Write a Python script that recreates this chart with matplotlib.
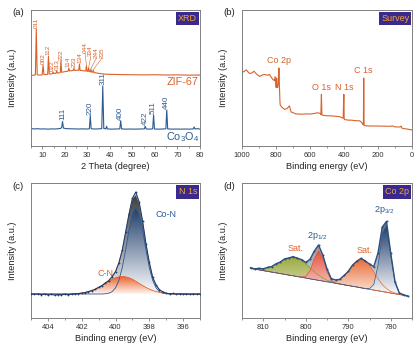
import numpy as np
import matplotlib
matplotlib.use("Agg")
import matplotlib.pyplot as plt
from matplotlib.patches import Polygon
from matplotlib.colors import LinearSegmentedColormap
from matplotlib.ticker import MultipleLocator

plt.rcParams['font.family'] = ['Liberation Sans', 'DejaVu Sans']
plt.rcParams['mathtext.default'] = 'regular'

BLUE = '#2c5a92'
NAVY = '#1f3d6a'
ORANGE = '#d9622b'
GRAY = '#808080'
BOX_BG = '#3a2a8c'
BOX_FG = '#f2a33a'

# ---------------- (a) XRD ----------------
co3o4_2theta = [5.0, 6.5, 8.0, 9.5, 11.0, 12.5, 14.0, 15.5, 17.0, 18.2,
                18.6, 19.0, 19.4, 20.5, 22.0, 24.0, 26.0, 28.0, 30.0, 30.9,
                31.3, 31.7, 33.0, 35.0, 36.4, 36.85, 37.3, 38.2, 38.55, 38.9,
                40.5, 42.5, 44.4, 44.8, 45.2, 47.0, 49.0, 51.0, 53.0, 55.3,
                55.7, 56.1, 57.5, 59.0, 59.4, 59.8, 61.5, 63.5, 64.85, 65.25,
                65.65, 67.5, 69.5, 71.5, 73.5, 75.5, 77.0, 77.4, 77.8, 78.8, 80.0]
co3o4_int = [.128, .126, .127, .125, .126, .124, .126, .125, .127, .130,
             .135, .180, .132, .128, .127, .126, .125, .126, .125, .127,
             .222, .127, .125, .126, .128, .440, .129, .126, .145, .126,
             .124, .125, .126, .186, .126, .124, .125, .124, .125, .126,
             .145, .126, .124, .126, .228, .125, .124, .125, .127, .265,
             .126, .124, .125, .124, .125, .124, .126, .140, .125, .128, .124]
co3o4_hkl = ['111', '220', '311', '400', '422', '511', '440']
co3o4_peaks = [19.0, 31.3, 36.85, 44.8, 55.7, 59.4, 65.25]

zif_2theta = [5.0, 6.0, 6.95, 7.35, 7.75, 8.8, 9.95, 10.35, 10.75, 11.8,
              12.4, 12.75, 13.1, 14.0, 14.5, 14.8, 15.1, 16.1, 16.4, 16.7,
              17.4, 18.0, 18.3, 18.6, 19.8, 21.0, 21.5, 21.8, 22.1, 23.0,
              23.7, 24.0, 24.3, 25.5, 26.2, 26.5, 26.8, 28.0, 29.3, 29.6,
              29.9, 30.3, 30.6, 30.9, 31.3, 31.6, 31.9, 32.3, 32.6, 32.9,
              34.0, 35.5, 37.5, 40.0, 45.0, 50.0, 55.0, 60.0, 65.0, 70.0, 75.0, 80.0]
zif_int = [.522, .520, .523, .860, .524, .521, .523, .595, .525, .526,
           .528, .660, .529, .530, .532, .545, .533, .535, .553, .536,
           .538, .541, .628, .542, .546, .549, .551, .572, .552, .554,
           .555, .572, .556, .557, .557, .603, .556, .554, .551, .590,
           .550, .548, .575, .547, .545, .565, .544, .542, .556, .541,
           .537, .533, .529, .527, .525, .524, .523, .524, .522, .523, .521, .522]
zif_hkl = ['011', '002', '112', '022', '013', '222', '114', '233', '134',
           '044', '334', '244', '235']
zif_peaks = [7.35, 10.35, 12.75, 14.8, 16.4, 18.3, 21.8, 24.0, 26.5,
             29.6, 30.6, 31.6, 32.6]

# ---------------- (b) survey ----------------
survey_be = [1000, 990, 975, 965, 955, 940, 930, 915, 897, 880,
             868, 850, 838, 825, 819, 810, 805, 802, 799, 796,
             793, 790, 786, 783, 780, 777, 775, 765, 750, 735,
             725, 721, 716, 711, 700, 682, 650, 620, 604, 580,
             556, 545, 540, 536, 533, 530, 520, 500, 480, 460,
             440, 423, 413, 405, 401, 399, 397, 390, 370, 355,
             330, 307, 298, 292, 289, 286, 284, 282, 278, 260,
             240, 210, 170, 130, 113, 105, 90, 70, 64, 60,
             50, 30, 10, 0]
survey_int = [.55, .545, .56, .545, .533, .538, .55, .53, .512, .522,
              .526, .52, .526, .50, .49, .48, .51, .47, .43, .50,
              .44, .43, .46, .574, .45, .33, .30, .285, .27, .275,
              .29, .295, .27, .25, .245, .236, .234, .236, .235, .238,
              .244, .242, .238, .232, .38, .228, .225, .222, .222, .22,
              .218, .215, .208, .205, .38, .20, .195, .193, .19, .19,
              .186, .185, .175, .165, .16, .155, .50, .155, .15, .148,
              .147, .147, .146, .145, .148, .142, .14, .14, .147, .132,
              .128, .125, .12, .119]
survey_names = ['Co 2p', 'O 1s', 'N 1s', 'C 1s']
survey_peaks = [783, 533, 401, 284]

# ---------------- (c) N 1s ----------------
n1s_be = [405.0, 404.8, 404.6, 404.4, 404.2, 404.0, 403.8, 403.6, 403.4, 403.2,
          403.0, 402.8, 402.6, 402.4, 402.2, 402.0, 401.8, 401.6, 401.4, 401.2,
          401.0, 400.8, 400.6, 400.4, 400.2, 400.0, 399.8, 399.6, 399.4, 399.2,
          399.0, 398.8, 398.6, 398.4, 398.2, 398.0, 397.8, 397.6, 397.4, 397.2,
          397.0, 396.8, 396.6, 396.4, 396.2, 396.0, 395.8, 395.6, 395.4, 395.2, 395.0]
n1s_raw = [.182, .178, .181, .176, .179, .174, .177, .172, .176, .174,
           .178, .175, .179, .181, .183, .186, .190, .197, .205, .214,
           .229, .242, .262, .279, .309, .346, .411, .503, .640, .771,
           .889, .935, .861, .722, .552, .414, .303, .246, .212, .196,
           .186, .181, .184, .179, .182, .178, .181, .177, .180, .178, .181]
n1s_bg = 0.18
n1s_con = [0.0] * 22 + [.002, .006, .017, .045, .101, .196, .329, .476, .595, .640,
                        .595, .476, .329, .196, .101, .045, .017, .006, .002] + [0.0] * 10
n1s_cn = [0.0] * 12 + [.001, .003, .004, .007, .012, .018, .026, .036, .049, .063,
                       .079, .094, .109, .120, .127, .130, .127, .120, .109, .094,
                       .079, .063, .049, .036, .026, .018, .012, .007, .004, .003,
                       .001] + [0.0] * 8

# ---------------- (d) Co 2p ----------------
co2p_be = [813, 812, 811, 810, 809, 808, 807, 806, 805, 804,
           803, 802, 801, 800, 799, 798, 797, 796, 795, 794,
           793, 792, 791, 790, 789, 788, 787, 786, 785, 784,
           783, 782, 781, 780, 779, 778, 777, 776]
co2p_raw = [.375, .366, .370, .366, .377, .383, .404, .416, .440, .446,
            .457, .445, .435, .414, .437, .497, .543, .470, .365, .294,
            .284, .288, .317, .347, .394, .422, .444, .425, .402, .382,
            .484, .676, .718, .480, .271, .188, .174, .163]
co2p_bg = [.370, .364, .359, .353, .348, .342, .337, .331, .326, .320,
           .315, .309, .304, .298, .292, .287, .281, .276, .270, .265,
           .259, .254, .248, .243, .237, .232, .226, .220, .215, .209,
           .204, .198, .193, .187, .182, .176, .171, .165]
co2p_sat1 = [.002, .004, .008, .015, .026, .043, .064, .087, .111, .129,
             .139, .138, .126, .106, .082, .059, .039, .024, .013, .007,
             .003, .001] + [0.0] * 16
co2p_p12 = [0.0] * 12 + [.002, .013, .060, .154, .219, .173, .076, .018, .002] + [0.0] * 17
co2p_sat2 = [0.0] * 18 + [.003, .007, .017, .036, .066, .107, .154, .193, .214, .208,
                          .179, .135, .090, .052, .027, .012, .005, .002] + [0.0] * 2
co2p_p32 = [0.0] * 28 + [.005, .041, .187, .430, .494, .284, .081, .012, .001, 0.0]


def gradient_fill(ax, x, top, bottom, color, z, light='white'):
    x = np.asarray(x, float)
    top = np.asarray(top, float)
    bottom = np.asarray(bottom, float)
    verts = np.column_stack([np.concatenate([x, x[::-1]]),
                             np.concatenate([top, bottom[::-1]])])
    poly = Polygon(verts, closed=True, fc='none', ec='none')
    ax.add_patch(poly)
    cmap = LinearSegmentedColormap.from_list('fade', [light, color])
    shade = np.linspace(0, 1, 200).reshape(-1, 1)
    im = ax.imshow(shade, cmap=cmap, origin='lower', aspect='auto',
                   extent=(x.min(), x.max(), bottom.min(), top.max()),
                   zorder=z, interpolation='bilinear')
    im.set_clip_path(poly)


def style_axes(ax, xlim, major, minor, xlabel, tag, letter):
    ax.set_xlim(*xlim)
    ax.set_ylim(0, 1)
    ax.set_yticks([])
    ax.xaxis.set_major_locator(MultipleLocator(major))
    ax.xaxis.set_minor_locator(MultipleLocator(minor))
    ax.tick_params(axis='x', which='both', direction='out', colors=GRAY,
                   labelcolor='#333333', labelsize=5.5, width=0.6, pad=1.5)
    ax.tick_params(axis='x', which='major', length=2.5)
    ax.tick_params(axis='x', which='minor', length=1.5)
    for s in ax.spines.values():
        s.set_color(GRAY)
        s.set_linewidth(0.7)
    ax.set_xlabel(xlabel, fontsize=6.6, color='#222222')
    ax.set_ylabel('Intensity (a.u.)', fontsize=6.6, color='#222222')
    ax.xaxis.set_label_coords(0.5, -0.115)
    ax.yaxis.set_label_coords(-0.08, 0.5)
    ax.annotate(tag, xy=(1, 1), xycoords='axes fraction', xytext=(-2, -3),
                textcoords='offset points', ha='right', va='top',
                fontsize=6.5, color=BOX_FG,
                bbox=dict(boxstyle='square,pad=0.25', fc=BOX_BG, ec='none'))
    pos = ax.get_position()
    fig.text(pos.x0 - 0.045, pos.y1 - 0.008, letter, fontsize=6.8,
             color='#222222', ha='left', va='center')


fig = plt.figure(figsize=(4.2, 3.51), dpi=100)
ax_a = fig.add_axes([0.0738, 0.584, 0.4024, 0.3875])
ax_b = fig.add_axes([0.5762, 0.584, 0.4048, 0.3875])
ax_c = fig.add_axes([0.0738, 0.0932, 0.4024, 0.3846])
ax_d = fig.add_axes([0.5762, 0.0932, 0.4048, 0.3846])

# (a)
ax_a.plot(zif_2theta, zif_int, color=ORANGE, lw=0.8)
ax_a.plot(co3o4_2theta, co3o4_int, color=BLUE, lw=0.8)
zx = np.asarray(zif_2theta)
zy = np.asarray(zif_int)
# label offsets (x shift, y gap) for the crowded ZIF-67 reflections
zif_dx = [0, 0, 0, -0.5, 0.4, 0, -0.4, 0, 0.4, -0.6, 0.9, 2.4, 3.9]
zif_dy = [0.008, 0.008, 0.008, 0.008, 0.008, 0.008, 0.008, 0.008, 0.008,
          0.096, 0.085, 0.085, 0.094]
for lab, p, ddx, ddy in zip(zif_hkl, zif_peaks, zif_dx, zif_dy):
    top = zy[np.abs(zx - p) < 0.1].max()
    if ddy > 0.05:
        ax_a.plot([p, p + ddx], [top + 0.004, top + ddy - 0.004], color=ORANGE, lw=0.4)
    ax_a.text(p + ddx, top + ddy, lab, rotation=90, ha='center', va='bottom',
              fontsize=4.6, color=ORANGE)
cx = np.asarray(co3o4_2theta)
cy = np.asarray(co3o4_int)
for lab, p in zip(co3o4_hkl, co3o4_peaks):
    top = cy[np.abs(cx - p) < 0.1].max()
    ax_a.text(p, top + 0.008, lab, rotation=90, ha='center', va='bottom',
              fontsize=5.8, color=BLUE)
ax_a.text(79.5, 0.47, 'ZIF-67', ha='right', va='center', fontsize=7.8, color=ORANGE)
ax_a.text(79.5, 0.068, 'Co$_3$O$_4$', ha='right', va='center', fontsize=7.8, color=BLUE)
style_axes(ax_a, (5, 80), 10, 5, '2 Theta (degree)', 'XRD', '(a)')

# (b)
ax_b.plot(survey_be, survey_int, color=ORANGE, lw=0.8)
sb = np.asarray(survey_be)
si = np.asarray(survey_int)
for name, p in zip(survey_names, survey_peaks):
    top = si[sb == p][0]
    ax_b.text(p, top + 0.02, name, ha='center', va='bottom', fontsize=6.5, color=ORANGE)
style_axes(ax_b, (1000, 0), 200, 100, 'Binding energy (eV)', 'Survey', '(b)')

# (c)
n1s_x = np.asarray(n1s_be)
con = np.asarray(n1s_con)
cn = np.asarray(n1s_cn)
base = np.full_like(n1s_x, n1s_bg)
env = base + con + cn
gradient_fill(ax_c, n1s_x, env, base, '#3c3c3c', 1, light='#f2f2f2')
gradient_fill(ax_c, n1s_x, base + con, base, NAVY, 2)
gradient_fill(ax_c, n1s_x, base + cn, base, '#e8622c', 3, light='#fff6f0')
ax_c.plot(n1s_x, env, color='#9a9a9a', lw=0.5, zorder=4)
ax_c.plot(n1s_x, base + con, color=BLUE, lw=0.6, zorder=4)
ax_c.plot(n1s_x, base + cn, color='#e8622c', lw=0.6, zorder=4)
ax_c.plot(n1s_x, n1s_raw, color=NAVY, lw=0.8, marker='o', ms=1.3, mew=0, zorder=5)
ax_c.text(397.0, 0.77, 'Co-N', ha='center', va='center', fontsize=6.5, color=BLUE)
ax_c.text(400.6, 0.33, 'C-N', ha='center', va='center', fontsize=6.5, color=ORANGE)
style_axes(ax_c, (405, 395), 2, 1, 'Binding energy (eV)', 'N 1s', '(c)')

# (d)
dx = np.asarray(co2p_be, float)
bg = np.asarray(co2p_bg)
s1 = np.asarray(co2p_sat1)
p12 = np.asarray(co2p_p12)
s2 = np.asarray(co2p_sat2)
p32 = np.asarray(co2p_p32)
env_d = bg + s1 + p12 + s2 + p32
gradient_fill(ax_d, dx, env_d, bg, '#6a6a6a', 1, light='#f4f4f4')
gradient_fill(ax_d, dx, bg + s1, bg, '#9aa83a', 2, light='#e6ead0')
gradient_fill(ax_d, dx, bg + p12, bg, '#e2503c', 3, light='#fbe4e0')
gradient_fill(ax_d, dx, bg + s2, bg, '#e96a35', 4, light='#fdf0e8')
gradient_fill(ax_d, dx, bg + p32, bg, NAVY, 5)
ax_d.plot(dx, bg, color='#9a9a9a', lw=0.5, zorder=6)
ax_d.plot(dx, bg + s1, color='#8a9a30', lw=0.5, zorder=6)
ax_d.plot(dx, bg + p12, color='#e2503c', lw=0.5, zorder=6)
ax_d.plot(dx, bg + s2, color='#e96a35', lw=0.5, zorder=6)
ax_d.plot(dx, bg + p32, color=BLUE, lw=0.5, zorder=6)
ax_d.plot(dx, co2p_raw, color='#2b4f80', lw=1.0, marker='o', ms=1.4, mew=0, zorder=7)
ax_d.text(802.4, 0.515, 'Sat.', ha='center', va='center', fontsize=6.5, color=ORANGE)
ax_d.text(797.2, 0.607, '2p$_{1/2}$', ha='center', va='center', fontsize=6.5, color=BLUE)
ax_d.text(786.1, 0.50, 'Sat.', ha='center', va='center', fontsize=6.5, color=ORANGE)
ax_d.text(781.6, 0.80, '2p$_{3/2}$', ha='center', va='center', fontsize=6.5, color=BLUE)
style_axes(ax_d, (815, 775), 10, 5, 'Binding energy (eV)', 'Co 2p', '(d)')

fig.savefig('out.png', dpi=100)
